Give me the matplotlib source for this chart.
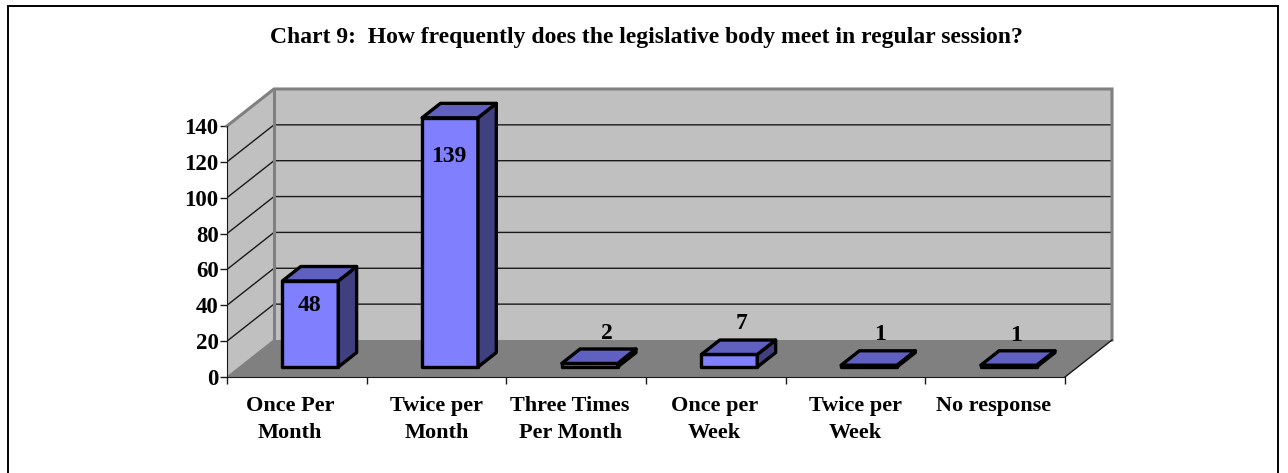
import matplotlib
matplotlib.use('Agg')
import matplotlib.pyplot as plt
from matplotlib.patches import Polygon, Rectangle

categories = ['Once Per\nMonth', 'Twice per\nMonth', 'Three Times\nPer Month', 'Once per\nWeek', 'Twice per\nWeek', 'No response']
values = [48, 139, 2, 7, 1, 1]
y_ticks = [0, 20, 40, 60, 80, 100, 120, 140]
title = 'Chart 9:  How frequently does the legislative body meet in regular session?'

W, H = 1288, 473
plt.rcParams['font.family'] = ['Liberation Serif', 'DejaVu Serif']
plt.rcParams['font.weight'] = 'bold'

fig = plt.figure(figsize=(W / 100, H / 100), dpi=100)
# outer frame, its bottom edge falls off the image
fig.add_artist(Rectangle((8 / W, -10 / H), 1270 / W, (H - 6 + 10) / H, transform=fig.transFigure,
                         fc='white', ec='black', lw=1.4, zorder=-1))

# axes: one data unit on x is a category, y is the value scale of the front plane
ax = fig.add_axes([227 / W, 1 - 377 / H, 886 / W, 287 / H])
ax.set_xlim(0, 886 / 139.67)
ax.set_ylim(0, 287 / 1.793)
ax.patch.set_visible(False)

# depth shear, fraction z of the full depth -> shift in data units
DX = 47 / 139.67
DY = 37 / 1.793


def pt(x, y, z=0.0):
    return (x + DX * z, y + DY * z)


n = len(categories)
top = y_ticks[-1]
ax.add_patch(Polygon([pt(0, 0, 1), pt(n, 0, 1), pt(n, top, 1), pt(0, top, 1)], fc='#c0c0c0', ec='none', zorder=1))
ax.add_patch(Polygon([pt(0, 0), pt(0, 0, 1), pt(0, top, 1), pt(0, top)], fc='#c0c0c0', ec='none', zorder=1))
ax.add_patch(Polygon([pt(0, 0), pt(n, 0), pt(n, 0, 1), pt(0, 0, 1)], fc='#808080', ec='none', zorder=1))

for t in y_ticks[1:-1]:
    ax.plot(*zip(pt(0, t), pt(0, t, 1), pt(n, t, 1)), color='#1a1a1a', lw=1.0, zorder=2, solid_joinstyle='miter')

# grey wall outline
ax.plot(*zip(pt(0, top), pt(0, top, 1), pt(n, top, 1), pt(n, 0, 1)), color='#808080', lw=2.2, zorder=2,
        clip_on=False, solid_joinstyle='miter')
ax.plot(*zip(pt(0, 0, 1), pt(0, top, 1)), color='#808080', lw=2.2, zorder=2)
ax.plot(*zip(pt(n, 0), pt(n, 0, 1)), color='#1a1a1a', lw=1.0, zorder=2)
ax.plot(*zip(pt(0, 0), pt(0, 0, 1)), color='#808080', lw=1.0, zorder=2)

# bars
bar_w = 0.4
z0, z1 = 0.27, 0.66
label_off = [(0.0, -25), (0.0, -39), (0, 19), (-0.035, 21), (-0.045, 20), (-0.07, 19)]
for i, v in enumerate(values):
    x0 = i + 0.5 - bar_w / 2 + 0.006
    x1 = x0 + bar_w
    kw = dict(ec='black', lw=2.4, joinstyle='round', zorder=3)
    ax.add_patch(Polygon([pt(x0, 0, z0), pt(x1, 0, z0), pt(x1, v, z0), pt(x0, v, z0)], fc='#8080ff', **kw))
    ax.add_patch(Polygon([pt(x1, 0, z0), pt(x1, 0, z1), pt(x1, v, z1), pt(x1, v, z0)], fc='#404080', **kw))
    ax.add_patch(Polygon([pt(x0, v, z0), pt(x1, v, z0), pt(x1, v, z1), pt(x0, v, z1)], fc='#6060c0', **kw))
    dx, dy = label_off[i]
    lx, ly = pt(i + 0.5 + dx, v, z1 if v < 10 else z0)
    ax.text(lx, ly + dy / 1.793 if v >= 10 else ly + (dy - 4) / 1.793, str(v), ha='center', va='center',
            fontsize=17, zorder=4, color='black')

for s in ['top', 'right']:
    ax.spines[s].set_visible(False)
ax.spines['left'].set_bounds(0, top)
ax.spines['bottom'].set_bounds(0, n)
ax.spines['left'].set_color('#1a1a1a')
ax.spines['bottom'].set_color('#1a1a1a')
ax.set_yticks(y_ticks)
ax.set_yticklabels([str(t) for t in y_ticks], fontsize=16.5)
ax.set_xticks(range(n + 1))
ax.set_xticklabels([])
# the first and third labels sit a little left of their category
ax.set_xticks([0.45, 1.5, 2.457, 3.49, 4.5, 5.49], minor=True)
ax.set_xticklabels(categories, minor=True, fontsize=16, linespacing=1.46)
ax.tick_params(axis='x', which='minor', length=0, pad=14)
ax.tick_params(axis='both', which='major', length=5, width=1, color='#1a1a1a')
ax.tick_params(axis='y', pad=1)

fig.text(646 / W, 1 - 38 / H, title, ha='center', va='center', fontsize=17)

fig.savefig('out.png', dpi=100)
